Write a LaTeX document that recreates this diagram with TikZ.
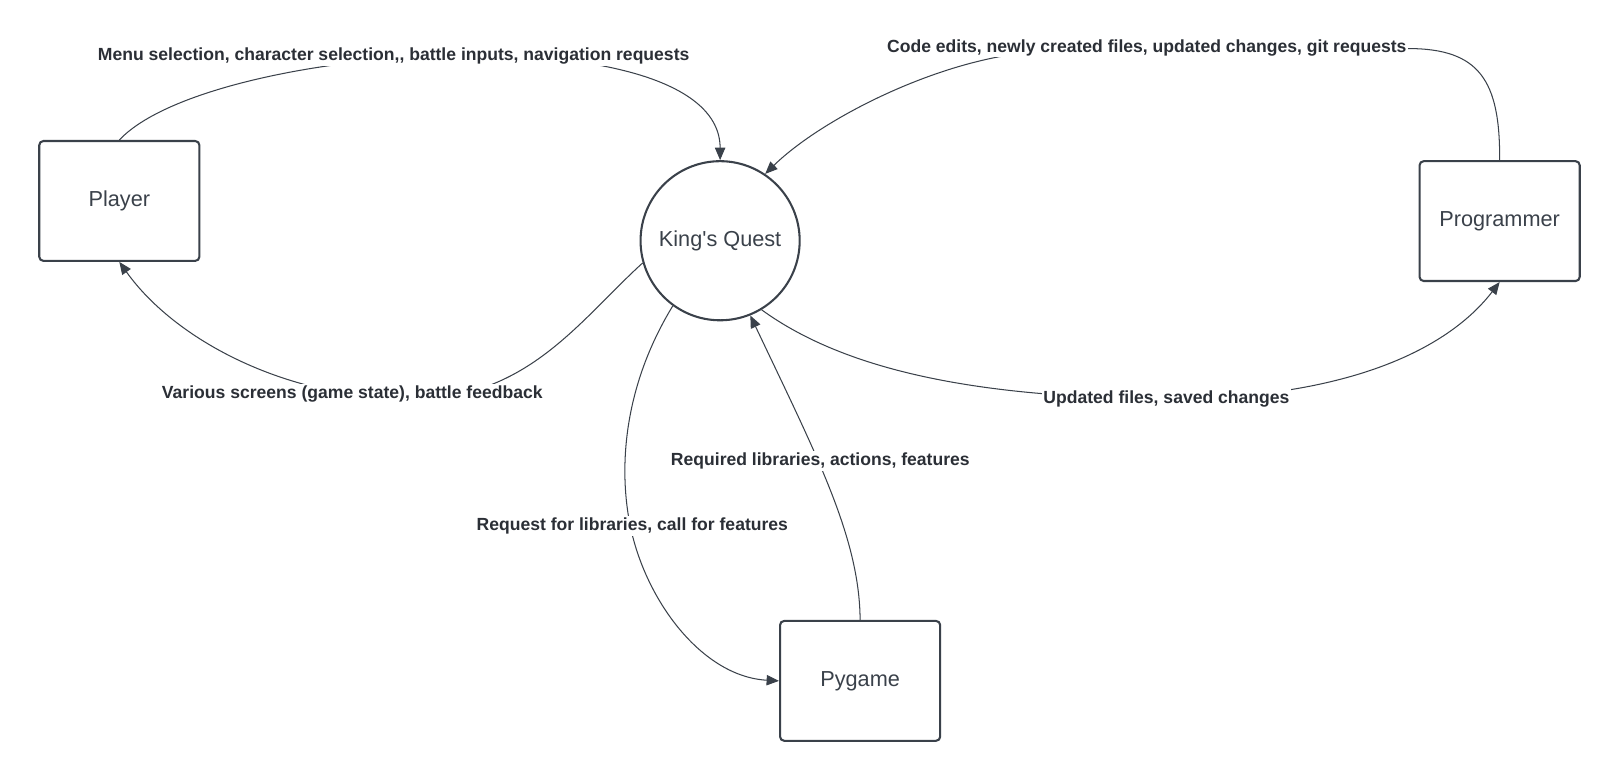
\documentclass[tikz,border=0pt]{standalone}
\usepackage{fontspec}
\newfontfamily\lsans{Liberation Sans}
\usetikzlibrary{arrows.meta}
\definecolor{lc}{HTML}{3A414A}
\definecolor{tc}{HTML}{2B2F36}
\begin{document}
\begin{tikzpicture}[x=1pt,y=-1pt,
  entity/.style={draw=lc, line width=2pt, rounded corners=4pt, minimum width=155pt, minimum height=116pt, inner sep=0pt, font=\lsans\fontsize{21}{25}\selectfont, text=lc},
  proc/.style={circle, draw=lc, line width=2pt, minimum size=154pt, inner sep=0pt, font=\lsans\fontsize{21}{25}\selectfont, text=lc},
  flow/.style={draw=lc, line width=1pt, -{Triangle[length=12pt,width=10pt]}},
  lbl/.style={fill=white, inner sep=1.5pt, font=\lsans\bfseries\fontsize{17}{20}\selectfont, text=tc}]
\useasboundingbox (0,0) rectangle (1568,756);
\node[entity] (player) at (115.5,194.5) {Player};
\node[proc] (kq) at (697,233) {King's Quest};
\node[entity] (prog) at (1451.5,214) {Programmer};
\node[entity] (pyg) at (832.5,659) {Pygame};

\draw[flow] (player.north) .. controls (205,40) and (697,10) .. (kq.north);
\node[lbl] (l1) at (381,54) {Menu selection, character selection,, battle inputs, navigation requests};

\draw[flow] (prog.north) .. controls (1452,78) and (1432,47) .. (1363,47) -- (985,52) .. controls (895,64) and (792,118) .. (kq.56);
\node[lbl] (l2) at (1110,46) {Code edits, newly created files, updated changes, git requests};

\draw[flow] (kq.196) .. controls (562,309) and (512,384) .. (405,386) .. controls (280,388) and (170,330) .. (player.south);
\node[lbl] (l3) at (341,381) {Various screens (game state), battle feedback};

\draw[flow] (kq.234) .. controls (600,380) and (600,460) .. (610,509) .. controls (625,582) and (680,655) .. (pyg.west);
\node[lbl] (l4) at (612,509) {Request for libraries, call for features};

\draw[flow] (pyg.north) .. controls (832,520) and (790,440) .. (kq.292);
\node[lbl] (l5) at (794,446) {Required libraries, actions, features};

\draw[flow] (kq.301) .. controls (820,360) and (950,385) .. (1129,386) .. controls (1300,386) and (1400,340) .. (prog.south);
\node[lbl] (l6) at (1129,386) {Updated files, saved changes};
\end{tikzpicture}
\end{document}
